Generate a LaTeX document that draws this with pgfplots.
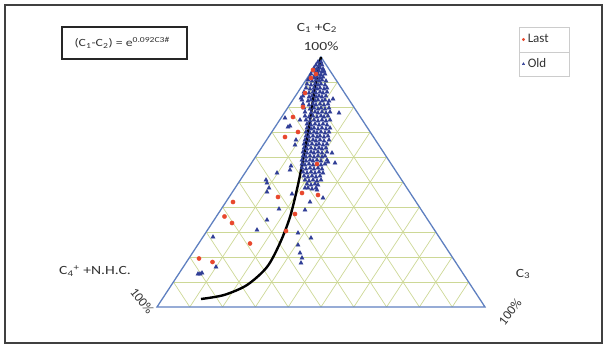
\documentclass[border=0pt]{standalone}
\usepackage{fontspec}
\setmainfont{Carlito}
\usepackage{graphicx}
\usepackage{pgfplots}
\pgfplotsset{compat=1.18}
\definecolor{gridc}{RGB}{205,216,150}
\definecolor{triblue}{RGB}{95,128,192}
\definecolor{lastred}{RGB}{232,72,45}
\definecolor{oldblue}{RGB}{48,62,150}
\definecolor{txt}{RGB}{50,50,50}
\newcommand{\wide}[1]{\scalebox{1.25}[1]{#1}}
\begin{document}
\begin{tikzpicture}
\begin{axis}[
  scale only axis, width=606pt, height=348pt,
  xmin=0, xmax=606, ymin=0, ymax=348, y dir=reverse,
  hide axis, clip=false,
  reverse legend,
  legend style={at={(0.8564,0.9224)}, anchor=north west, draw=none, fill=none,
    font=\fontsize{13}{14}\selectfont, text=txt, inner xsep=3pt, inner ysep=0pt,
    row sep=0pt, column sep=3pt, nodes={minimum height=24.5pt, inner sep=0pt},
    cells={anchor=west}},
  legend image code/.code={\draw[#1, mark size=1.3pt] plot coordinates {(0.1cm,0cm)};},
]
\path (axis cs:0,0) (axis cs:606,348);
% grid
\foreach \a/\b/\c/\d in {
 304.6/82/337.4/82, 288.2/107/353.8/107, 271.8/132/370.2/132, 255.4/157/386.6/157,
 239/182/403/182, 222.6/207/419.4/207, 206.2/232/435.8/232, 189.8/257/452.2/257, 173.4/282/468.6/282,
 189.8/307/337.4/82, 222.6/307/353.8/107, 255.4/307/370.2/132, 288.2/307/386.6/157, 321/307/403/182,
 353.8/307/419.4/207, 386.6/307/435.8/232, 419.4/307/452.2/257, 452.2/307/468.6/282,
 189.8/307/173.4/282, 222.6/307/189.8/257, 255.4/307/206.2/232, 288.2/307/222.6/207, 321/307/239/182,
 353.8/307/255.4/157, 386.6/307/271.8/132, 419.4/307/288.2/107, 452.2/307/304.6/82}
 {\edef\tmp{\noexpand\draw[gridc, line width=0.7pt] (axis cs:\a,\b) -- (axis cs:\c,\d);}\tmp}
\draw[triblue, line width=1.3pt, line join=miter] (axis cs:321,57) -- (axis cs:157,307) -- (axis cs:485,307) -- cycle;
% Old
\addplot[only marks, mark=triangle*, mark size=2.4pt, color=oldblue] coordinates {
(318,62)(321,62)
(316,65)(319,66)(322,65)
(314,68)(317,69)(320,68)(323,69)
(313,71)(316,72)(319,71)(322,72)(324,71)
(311,74)(315,75)(318,74)(321,75)(325,74)
(310,77)(314,78)(317,77)(320,78)(323,77)
(308,80)(312,81)(316,80)(319,81)(322,80)(326,81)
(307,84)(311,85)(315,84)(318,85)(321,84)(325,85)
(306,88)(310,89)(314,88)(317,89)(320,88)(324,89)(327,88)
(304,92)(309,93)(313,92)(316,93)(320,92)(323,93)(327,92)
(303,96)(309,97)(312,96)(316,97)(319,96)(322,97)(326,96)
(302,100)(308,101)(311,100)(315,101)(318,100)(322,101)(325,100)(329,101)
(303,104)(309,105)(313,104)(316,105)(320,104)(324,105)(328,104)
(304,108)(310,109)(314,108)(318,109)(321,108)(325,109)(329,108)
(305,112)(311,113)(315,112)(318,113)(322,112)(326,113)(330,112)
(305,116)(309,117)(313,116)(317,117)(321,116)(324,117)(328,116)
(306,120)(310,121)(314,120)(318,121)(322,120)(326,121)(330,120)
(307,124)(311,125)(315,124)(319,125)(323,124)(327,125)
(307,128)(311,129)(314,128)(318,129)(322,128)(326,129)(330,128)
(306,132)(310,133)(314,132)(317,133)(321,132)(325,133)(329,132)
(306,136)(309,137)(313,136)(317,137)(320,136)(324,137)(328,136)
(305,140)(309,141)(313,140)(316,141)(320,140)(324,141)(329,140)
(304,144)(308,145)(312,144)(316,145)(319,144)(323,145)(327,144)
(304,148)(307,149)(311,148)(315,149)(319,148)(322,149)(326,148)
(303,152)(307,153)(311,152)(314,153)(318,152)(322,153)(327,152)
(303,156)(306,157)(310,156)(314,157)(318,156)(322,157)(325,156)
(302,160)(306,161)(310,160)(313,161)(317,160)(321,161)(327,160)
(302,164)(305,165)(309,164)(313,165)(317,164)(321,165)(325,164)
(302,168)(306,169)(310,168)(314,169)(318,168)(322,169)
(303,172)(307,173)(311,172)(315,173)(319,172)(323,173)
(304,176)(308,177)(312,176)(316,177)(320,176)
(305,180)(309,181)(313,180)(317,181)(321,180)
(307,184)(311,185)(315,184)(318,185)
(308,188)(312,189)(316,188)
(333,99)(339,113)(285,118)(288,127)(301,98)(290,126)(300,120)(296,140)(295,145)
(332,153)(335,163)(328,162)(291,166)(290,170)(277,173)(266,180)(267,183)(269,188)(267,192)
(305,188)(317,190)(323,198)(292,194)(310,202)(305,210)(279,209)(267,220)(257,230)
(298,233)(298,245)(213,237)(311,238)(300,253)(302,258)(301,263)(216,267)
(198,274)(200,274)(202,273)
};
\addlegendentry{Old}
% Last
\addplot[only marks, mark=*, mark size=2.1pt, color=lastred] coordinates {
(313,70)(316,74)(311,78)(305,93)(303,107)(293,117)(298,132)(285,137)(317,164)
(278,197)(302,193)(318,195)(233,202)(295,214)(224.5,216.5)(232,223)(286,231)
(250,243.5)(199,258.5)(212.5,262)
};
\addlegendentry{Last}
\addplot[black, line width=2.4pt, smooth, forget plot] coordinates {
(321,57)(315,87)(309,127)(303,160)(297.5,187)(290,217)(280,243)(267,267)(247,285)(224,295)(201,299)};
% legend frame
\draw[gray!40, line width=0.8pt] (axis cs:519,27) rectangle (axis cs:569,76);
\draw[gray!40, line width=0.8pt] (axis cs:519,52) -- (axis cs:569,52);
% frames
\draw[black!75, line width=1.5pt] (axis cs:5,5) rectangle (axis cs:602,343);
\draw[black!85, line width=1.8pt] (axis cs:62,27) rectangle (axis cs:187,59);
\node[anchor=west, text=txt, font=\fontsize{11}{12}\selectfont] at (axis cs:71,43)
  {\wide{(C\textsubscript{1}-C\textsubscript{2}) = e\textsuperscript{0.092C3\#}}};
% labels
\node[text=txt, font=\fontsize{12.5}{13}\selectfont] at (axis cs:317,28) {\wide{C\textsubscript{1} +C\textsubscript{2}}};
\node[text=txt, font=\fontsize{12.5}{13}\selectfont] at (axis cs:321,46) {\wide{100\%}};
\node[text=txt, font=\fontsize{12.5}{13}\selectfont] at (axis cs:95,271) {\wide{C\textsubscript{4}\textsuperscript{+} +N.H.C.}};
\node[text=txt, font=\fontsize{12.5}{13}\selectfont] at (axis cs:523,274) {\wide{C\textsubscript{3}}};
\node[text=txt, font=\fontsize{13}{14}\selectfont, rotate=-52] at (axis cs:142,301) {100\%};
\node[text=txt, font=\fontsize{13}{14}\selectfont, rotate=52] at (axis cs:510,312) {100\%};
\end{axis}
\end{tikzpicture}
\end{document}
